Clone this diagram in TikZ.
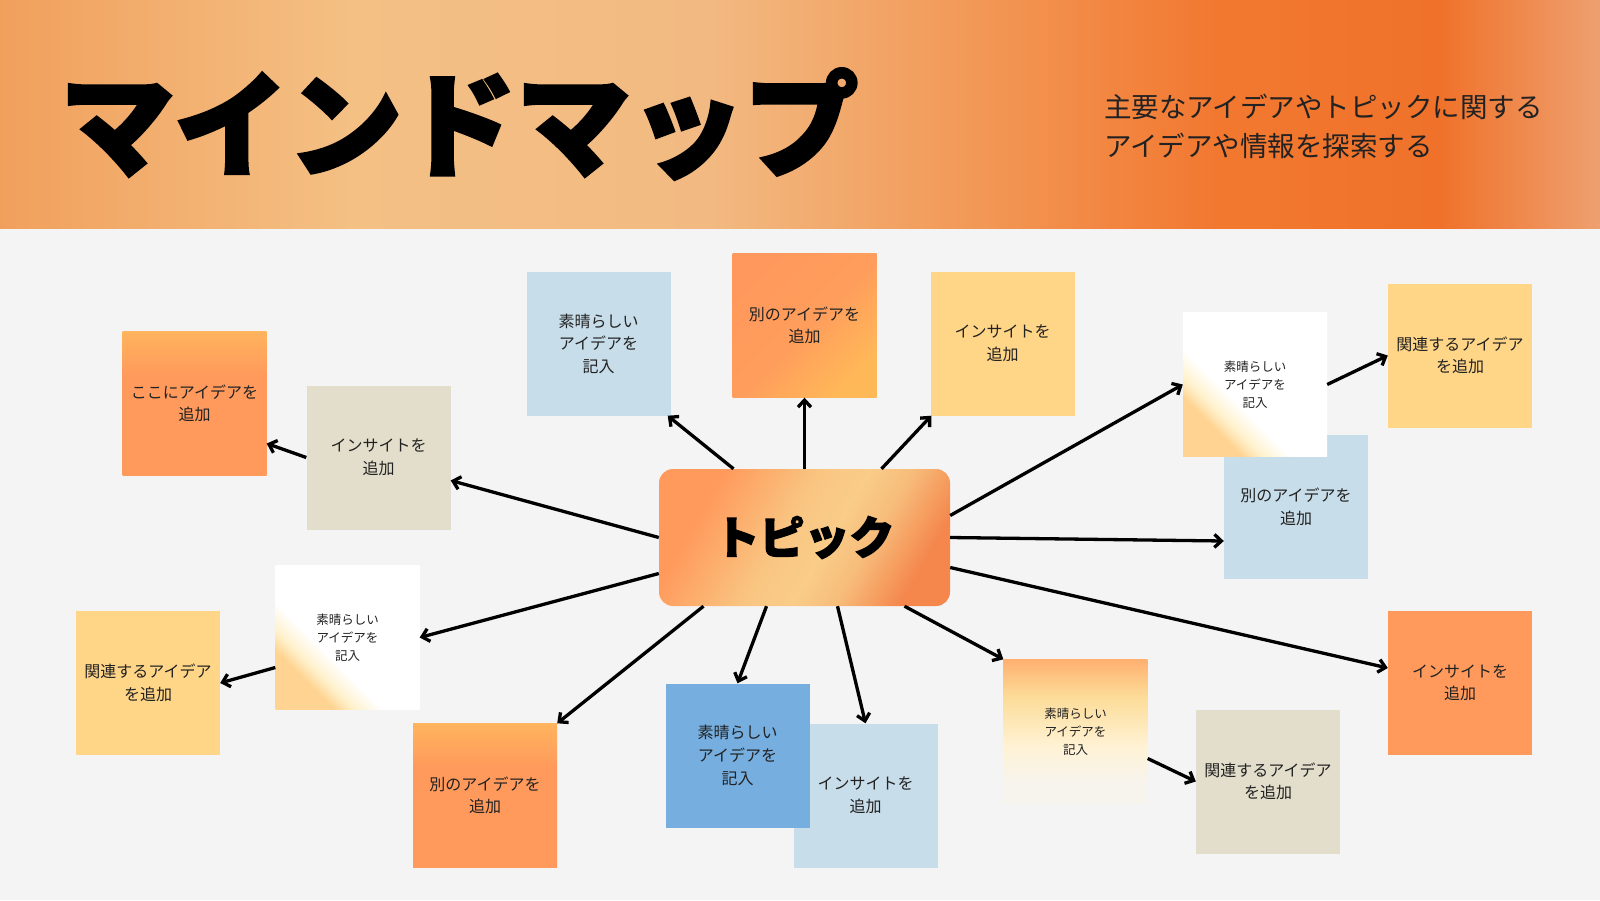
\documentclass[tikz,border=0pt]{standalone}
\usepackage{fontspec}
\setmainfont{Noto Sans CJK JP}
\newfontfamily\gruesa{Noto Sans CJK JP}[FakeBold=3]
\usepackage{tikz}
\usetikzlibrary{arrows.meta}
\usetikzlibrary{calc}

% --- Colores ---
\definecolor{fondo}{HTML}{F4F4F4}
\definecolor{tinta}{HTML}{222222}
\definecolor{naranja}{HTML}{FF9A5C}
\definecolor{beige}{HTML}{E2DECB}
\definecolor{celeste}{HTML}{C8DDEA}
\definecolor{amarillo}{HTML}{FFD587}
\definecolor{azul}{HTML}{75AEDF}

% --- Sombreados ---
\pgfdeclarehorizontalshading{cabecera}{100bp}{
  color(0bp)=(rgb,255:red,241;green,160;blue,92);
  color(25bp)=(rgb,255:red,241;green,160;blue,92);
  color(36bp)=(rgb,255:red,244;green,192;blue,132);
  color(47bp)=(rgb,255:red,242;green,186;blue,130);
  color(56bp)=(rgb,255:red,242;green,150;blue,84);
  color(63bp)=(rgb,255:red,242;green,120;blue,48);
  color(70bp)=(rgb,255:red,240;green,114;blue,42);
  color(75bp)=(rgb,255:red,238;green,160;blue,112);
  color(100bp)=(rgb,255:red,238;green,160;blue,112)}
\pgfdeclarehorizontalshading{tema}{100bp}{
  color(0bp)=(rgb,255:red,255;green,154;blue,92);
  color(28bp)=(rgb,255:red,255;green,154;blue,92);
  color(46bp)=(rgb,255:red,249;green,198;blue,130);
  color(55bp)=(rgb,255:red,249;green,204;blue,136);
  color(63bp)=(rgb,255:red,247;green,188;blue,122);
  color(75bp)=(rgb,255:red,245;green,134;blue,76);
  color(100bp)=(rgb,255:red,245;green,134;blue,76)}
\pgfdeclareverticalshading{brillo}{100bp}{
  color(0bp)=(naranja);
  color(60bp)=(naranja);
  color(75bp)=(rgb,255:red,255;green,180;blue,94);
  color(100bp)=(rgb,255:red,255;green,180;blue,94)}
\pgfdeclarehorizontalshading{diagonal}{100bp}{
  color(0bp)=(rgb,255:red,255;green,152;blue,92);
  color(25bp)=(rgb,255:red,255;green,152;blue,92);
  color(52bp)=(rgb,255:red,255;green,158;blue,92);
  color(75bp)=(rgb,255:red,255;green,184;blue,88);
  color(100bp)=(rgb,255:red,255;green,184;blue,88)}
\pgfdeclarehorizontalshading{blanco}{100bp}{
  color(0bp)=(rgb,255:red,255;green,212;blue,146);
  color(29bp)=(rgb,255:red,255;green,212;blue,146);
  color(34bp)=(rgb,255:red,255;green,241;blue,204);
  color(41bp)=(white);
  color(100bp)=(white)}
\pgfdeclareverticalshading{aurora}{100bp}{
  color(0bp)=(rgb,255:red,247;green,244;blue,238);
  color(32bp)=(rgb,255:red,247;green,244;blue,238);
  color(45bp)=(rgb,255:red,255;green,242;blue,212);
  color(62bp)=(rgb,255:red,252;green,220;blue,152);
  color(75bp)=(rgb,255:red,255;green,176;blue,112);
  color(100bp)=(rgb,255:red,255;green,176;blue,112)}

\begin{document}
\begin{tikzpicture}[
        x=1pt, y=-1pt, % Coordenadas en pixeles, eje y hacia abajo
        nota/.style={minimum width=144pt, minimum height=144pt, inner sep=0pt,
          align=center, text=tinta, font=\fontsize{16}{22.5}\selectfont}, % Estilo para las notas
        notachica/.style={nota, font=\fontsize{12.5}{18}\selectfont}, % Notas con texto pequeno
        flecha/.style={-{Straight Barb[length=7pt, width=13pt]}, line width=3.3pt}, % Estilo para las flechas
    ]
        \useasboundingbox (0,0) rectangle (1600,900);
        % --- Fondo y cabecera ---
        \fill[fondo] (0,0) rectangle (1600,900);
        \shade[shading=cabecera] (0,0) rectangle (1600,228);
        \node[anchor=west, inner sep=0pt, font=\gruesa\bfseries\fontsize{114}{114}\selectfont] (titulo) at (60,124) {マインドマップ};
        \node[anchor=west, inner sep=0pt, align=left, text=tinta, font=\fontsize{27.5}{39}\selectfont] (subtitulo) at (1104,126)
          {主要なアイデアやトピックに関する\\アイデアや情報を探索する};

        % --- Tema central ---
        \node[minimum width=291pt, minimum height=137pt, rounded corners=14pt, shading=tema, shading angle=-30,
          font=\gruesa\bfseries\fontsize{45}{45}\selectfont] (topic) at (804.5,537.5) {トピック};

        % --- Notas ---
        \node[nota, shading=brillo] (n1) at (194.5,403.5) {ここにアイデアを\\追加};
        \node[nota, fill=beige] (n2) at (378.5,457.5) {インサイトを\\追加};
        \node[nota, fill=celeste] (n3) at (598.5,343.5) {素晴らしい\\アイデアを\\記入};
        \node[nota, shading=diagonal, shading angle=-45] (n4) at (804.5,325.5) {別のアイデアを\\追加};
        \node[nota, fill=amarillo] (n5) at (1002.5,343.5) {インサイトを\\追加};
        \node[nota, fill=celeste] (n8) at (1296,507) {別のアイデアを\\追加};
        \node[notachica, shading=blanco, shading angle=45] (n6) at (1255,384.5) {素晴らしい\\アイデアを\\記入};
        \node[nota, fill=amarillo] (n7) at (1460,355.5) {関連するアイデア\\を追加};
        \node[nota, fill=naranja] (n9) at (1460,683) {インサイトを\\追加};
        \node[nota, fill=beige] (n10) at (1268,781.5) {関連するアイデア\\を追加};
        \node[notachica, shading=aurora] (n11) at (1075.5,731.5) {素晴らしい\\アイデアを\\記入};
        \node[nota, fill=celeste] (n12) at (865.5,795.5) {インサイトを\\追加};
        \node[nota, fill=azul, font=\fontsize{16}{23}\selectfont] (n13) at (737.5,755.5) {素晴らしい\\アイデアを\\記入};
        \node[nota, shading=brillo] (n14) at (485,795.5) {別のアイデアを\\追加};
        \node[notachica, shading=blanco, shading angle=45] (n15) at (347.5,637.5) {素晴らしい\\アイデアを\\記入};
        \node[nota, fill=amarillo] (n16) at (148,683) {関連するアイデア\\を追加};

        % --- Flechas ---
        \draw[flecha] (topic.west) -- ([yshift=-23pt]n2.east);
        \draw[flecha] (n2.west) -- ([yshift=-40pt]n1.east);
        \draw[flecha] ([xshift=-71pt]topic.north) -- ([xshift=-3pt]n3.south east);
        \draw[flecha] (topic.north) -- (n4.south);
        \draw[flecha] ([xshift=77pt]topic.north) -- ([xshift=1pt]n5.south west);
        \draw[flecha] ([yshift=22pt]topic.east) -- (n6.west);
        \draw[flecha] (n6.east) -- (n7.west);
        \draw[flecha] (topic.east) -- ([yshift=-34pt]n8.west);
        \draw[flecha] ([yshift=-30pt]topic.east) -- ([yshift=15pt]n9.west);
        \draw[flecha] ([xshift=100pt]topic.south) -- (n11.north west);
        \draw[flecha] ([yshift=-27pt]n11.east) -- (n10.west);
        \draw[flecha] ([xshift=33pt]topic.south) -- (n12.north);
        \draw[flecha] ([xshift=-38pt]topic.south) -- (n13.north);
        \draw[flecha] ([xshift=-101pt]topic.south) -- (n14.north east);
        \draw[flecha] ([yshift=-36pt]topic.west) -- (n15.east);
        \draw[flecha] ([yshift=-30pt]n15.west) -- (n16.east);
    \end{tikzpicture}
\end{document}
